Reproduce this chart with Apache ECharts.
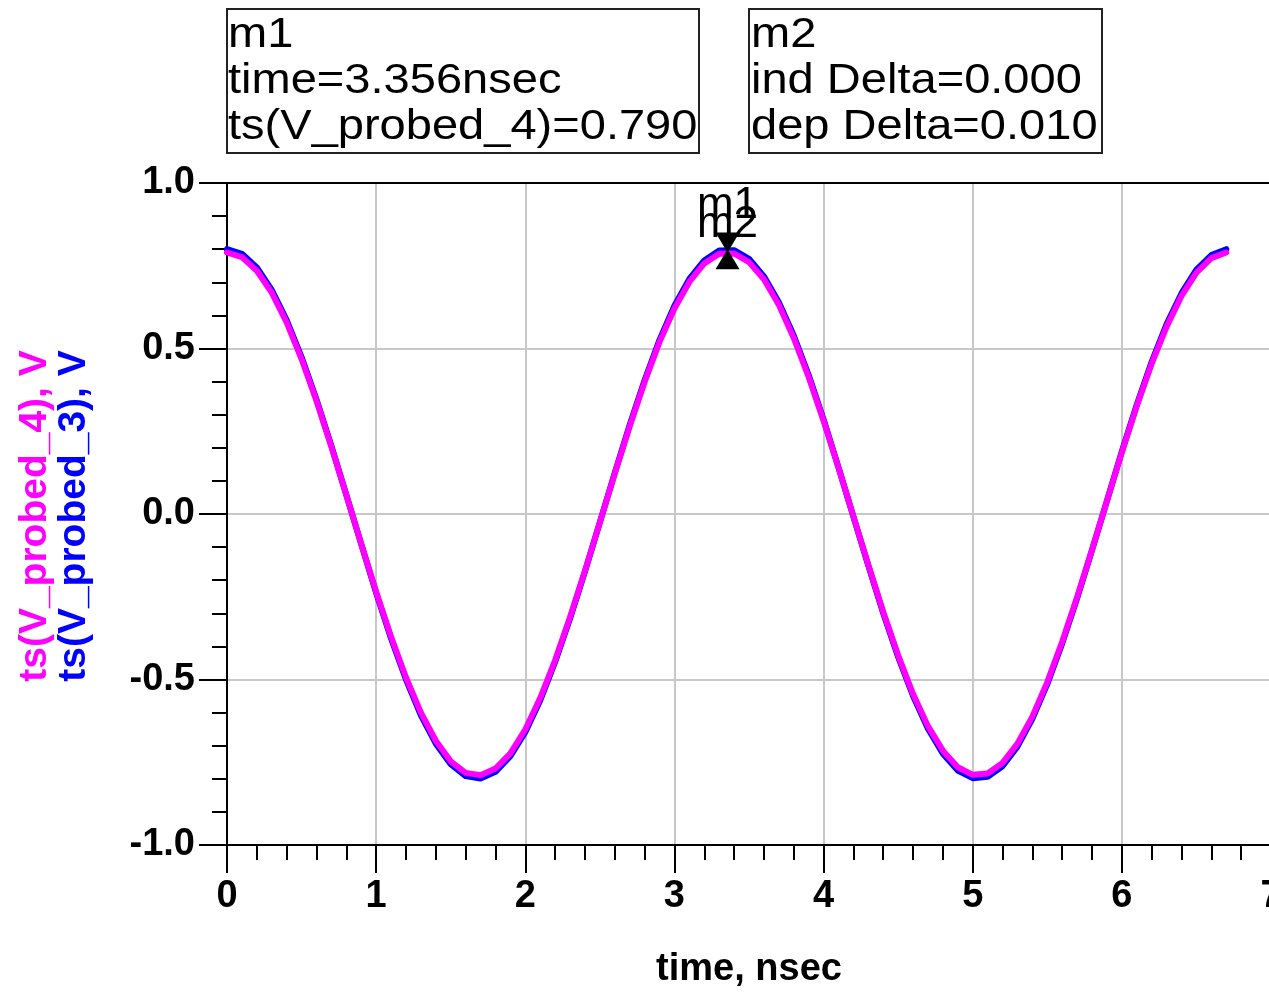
<!DOCTYPE html>
<html><head><meta charset="utf-8">
<script src="https://cdn.jsdelivr.net/npm/echarts@6/dist/echarts.min.js"></script>
<style>html,body{margin:0;padding:0;background:#fff}#c{width:1269px;height:993px}</style>
</head><body><div id="c"></div>
<script>
// time axis samples (nsec)
const times = [0.0,0.1,0.2,0.3,0.4,0.5,0.6,0.7,0.8,0.9,1.0,1.1,1.2,1.3,1.4,1.5,1.6,1.7,1.8,1.9,
  2.0,2.1,2.2,2.3,2.4,2.5,2.6,2.7,2.8,2.9,3.0,3.1,3.2,3.3,3.4,3.5,3.6,3.7,3.8,3.9,
  4.0,4.1,4.2,4.3,4.4,4.5,4.6,4.7,4.8,4.9,5.0,5.1,5.2,5.3,5.4,5.5,5.6,5.7,5.8,5.9,
  6.0,6.1,6.2,6.3,6.4,6.5,6.6,6.7];
// ts(V_probed_4), V  (magenta)
const vProbed4 = [0.790,0.776,0.735,0.669,0.579,0.468,0.342,0.203,0.058,-0.090,-0.235,-0.371,-0.494,-0.600,-0.685,-0.747,-0.782,-0.789,-0.769,-0.723,
  -0.651,-0.556,-0.442,-0.312,-0.172,-0.025,0.122,0.265,0.399,0.520,0.621,0.701,0.757,0.786,0.787,0.761,0.709,0.632,0.532,0.414,
  0.282,0.140,-0.007,-0.154,-0.296,-0.427,-0.544,-0.641,-0.715,-0.765,-0.788,-0.784,-0.752,-0.694,-0.612,-0.508,-0.386,-0.251,-0.108,0.040,
  0.186,0.326,0.454,0.566,0.659,0.729,0.773,0.790];
// ts(V_probed_3), V  (blue)
const vProbed3 = [0.800,0.786,0.745,0.677,0.586,0.474,0.346,0.206,0.058,-0.091,-0.238,-0.376,-0.500,-0.608,-0.694,-0.756,-0.792,-0.799,-0.779,-0.732,
  -0.659,-0.563,-0.447,-0.316,-0.174,-0.025,0.124,0.269,0.404,0.526,0.629,0.710,0.766,0.796,0.797,0.771,0.718,0.640,0.539,0.420,
  0.286,0.141,-0.008,-0.156,-0.300,-0.432,-0.550,-0.649,-0.724,-0.775,-0.798,-0.794,-0.762,-0.703,-0.619,-0.514,-0.391,-0.255,-0.109,0.040,
  0.189,0.330,0.460,0.574,0.667,0.738,0.782,0.800];
const m1Point = [3.356, 0.790];
const m2Point = [3.356, 0.800];
const box1Lines = ['m1', 'time=3.356nsec', 'ts(V_probed_4)=0.790'];
const box2Lines = ['m2', 'ind Delta=0.000', 'dep Delta=0.010'];
const yTitle4 = 'ts(V_probed_4), V';
const yTitle3 = 'ts(V_probed_3), V';
const xTitle = 'time, nsec';

const FONT = '"Liberation Sans", Arial, sans-serif';
const chart = echarts.init(document.getElementById('c'), null, {renderer: 'canvas'});
const pairs = arr => times.map((t, i) => [t, arr[i]]);
const boxText = (lines, x) => lines.map((s, i) => ({
  type: 'text', x: x, y: 35 + i * 46, scaleX: 1.12, z: 10,
  style: {text: s, font: '42px ' + FONT, fill: '#000', align: 'left', verticalAlign: 'middle'}
}));
const tickLabel = {color: '#000', fontSize: 38, fontWeight: 'bold', fontFamily: FONT};

const option = {
  animation: false,
  backgroundColor: '#fff',
  grid: {left: 227, top: 183, width: 1044, height: 662, outerBoundsMode: 'none', containLabel: false},
  xAxis: [{
    type: 'value', min: 0, max: 7, interval: 1,
    axisLine: {show: true, onZero: false, lineStyle: {color: '#000', width: 2}},
    axisTick: {show: true, length: 28, lineStyle: {color: '#000', width: 2}},
    minorTick: {show: true, splitNumber: 5, length: 15, lineStyle: {color: '#000', width: 2}},
    axisLabel: Object.assign({margin: 33, showMaxLabel: true}, tickLabel),
    splitLine: {show: true, lineStyle: {color: '#c8c8c8', width: 2}},
    name: xTitle, nameLocation: 'middle', nameGap: 106,
    nameTextStyle: {color: '#000', fontSize: 38, fontWeight: 'bold', fontFamily: FONT}
  }, {
    type: 'value', position: 'top', min: 0, max: 7, interval: 1,
    axisLine: {show: true, onZero: false, lineStyle: {color: '#000', width: 2}},
    axisTick: {show: false}, axisLabel: {show: false}, splitLine: {show: false}
  }],
  yAxis: {
    type: 'value', min: -1, max: 1, interval: 0.5,
    axisLine: {show: true, onZero: false, lineStyle: {color: '#000', width: 2}},
    axisTick: {show: true, length: 28, lineStyle: {color: '#000', width: 2}},
    minorTick: {show: true, splitNumber: 5, length: 15, lineStyle: {color: '#000', width: 2}},
    axisLabel: Object.assign({margin: 32, formatter: v => v.toFixed(1)}, tickLabel),
    splitLine: {show: true, lineStyle: {color: '#c8c8c8', width: 2}}
  },
  series: [
    {type: 'line', data: pairs(vProbed3), smooth: false, showSymbol: false, z: 2,
     lineStyle: {color: '#0000ff', width: 6, join: 'round', cap: 'round'}, itemStyle: {color: '#0000ff'}},
    {type: 'line', data: pairs(vProbed4), smooth: false, showSymbol: false, z: 3,
     lineStyle: {color: '#ff00ff', width: 6, join: 'round', cap: 'round'}, itemStyle: {color: '#ff00ff'}},
    {type: 'scatter', data: [m1Point], symbol: 'triangle', symbolRotate: 180, symbolSize: [24, 20],
     symbolOffset: [0, -10], itemStyle: {color: '#000', opacity: 1}, z: 5, silent: true},
    {type: 'scatter', data: [m2Point], symbol: 'triangle', symbolSize: [24, 20],
     symbolOffset: [0, 10], itemStyle: {color: '#000', opacity: 1}, z: 5, silent: true},
    {type: 'scatter', data: [m1Point], symbolSize: 1, itemStyle: {color: 'transparent', opacity: 1}, z: 6, silent: true,
     label: {show: true, formatter: 'm1', position: 'inside', offset: [0, -47], color: '#000', opacity: 1, fontSize: 44, fontFamily: FONT}},
    {type: 'scatter', data: [m2Point], symbolSize: 1, itemStyle: {color: 'transparent', opacity: 1}, z: 6, silent: true,
     label: {show: true, formatter: 'm2', position: 'inside', offset: [0, -24], color: '#000', opacity: 1, fontSize: 44, fontFamily: FONT}}
  ],
  graphic: [
    {type: 'rect', shape: {x: 227, y: 9, width: 472, height: 144}, style: {fill: 'none', stroke: '#222', lineWidth: 2}},
    {type: 'rect', shape: {x: 749, y: 9, width: 353, height: 144}, style: {fill: 'none', stroke: '#222', lineWidth: 2}},
    ...boxText(box1Lines, 228),
    ...boxText(box2Lines, 751),
    {type: 'text', x: 35, y: 516, rotation: Math.PI / 2,
     style: {text: yTitle4, font: 'bold 39px ' + FONT, fill: '#ff00ff', align: 'center', verticalAlign: 'middle'}},
    {type: 'text', x: 74, y: 516, rotation: Math.PI / 2,
     style: {text: yTitle3, font: 'bold 39px ' + FONT, fill: '#0000ff', align: 'center', verticalAlign: 'middle'}}
  ]
};
chart.setOption(option);
</script></body></html>
